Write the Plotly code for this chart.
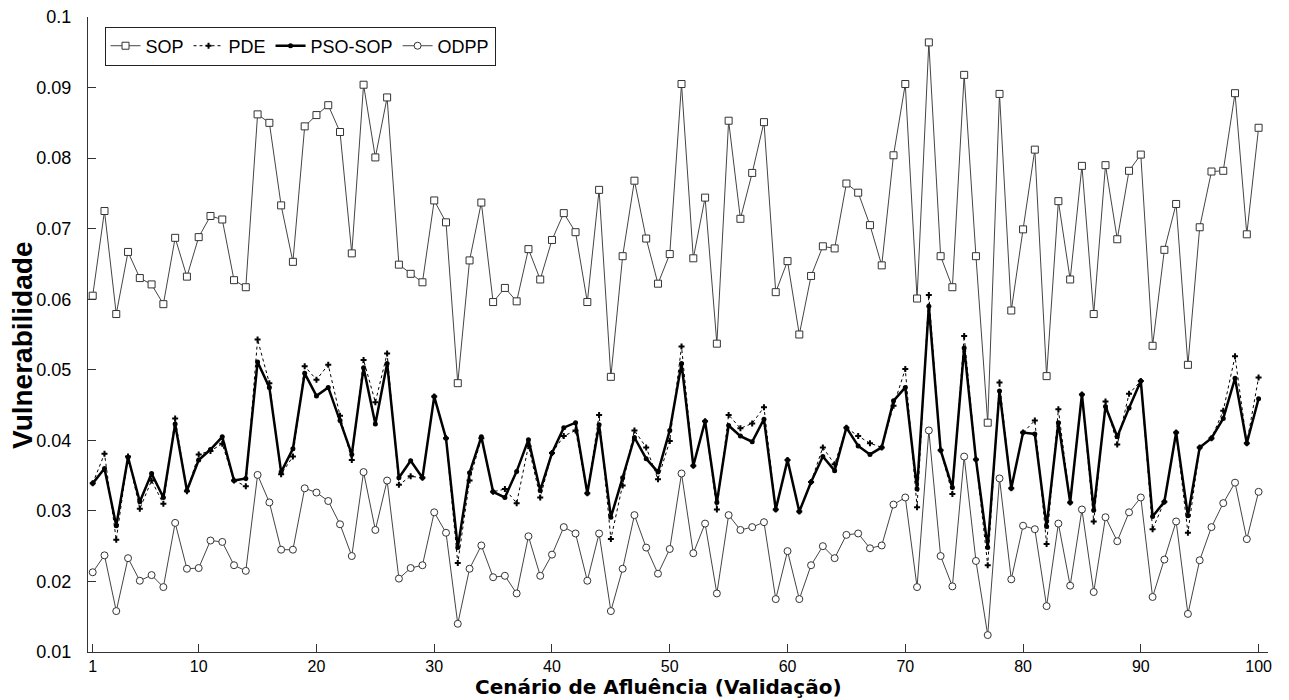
import plotly.graph_objects as go

scenarios = list(range(1, 101))

sop = [0.0605, 0.0725, 0.0579, 0.0667, 0.0630, 0.0621, 0.0593, 0.0687, 0.0632, 0.0688,
       0.0718, 0.0713, 0.0627, 0.0617, 0.0862, 0.0850, 0.0733, 0.0653, 0.0845, 0.0861,
       0.0875, 0.0837, 0.0665, 0.0904, 0.0801, 0.0886, 0.0649, 0.0636, 0.0624, 0.0740,
       0.0709, 0.0481, 0.0655, 0.0737, 0.0596, 0.0616, 0.0597, 0.0671, 0.0628, 0.0684,
       0.0722, 0.0695, 0.0596, 0.0755, 0.0490, 0.0661, 0.0768, 0.0686, 0.0622, 0.0664,
       0.0905, 0.0658, 0.0744, 0.0537, 0.0853, 0.0714, 0.0779, 0.0851, 0.0610, 0.0654,
       0.0550, 0.0633, 0.0675, 0.0672, 0.0764, 0.0751, 0.0705, 0.0648, 0.0804, 0.0905,
       0.0601, 0.0964, 0.0661, 0.0617, 0.0918, 0.0661, 0.0425, 0.0891, 0.0584, 0.0699,
       0.0812, 0.0491, 0.0739, 0.0628, 0.0789, 0.0579, 0.0790, 0.0685, 0.0782, 0.0805,
       0.0534, 0.0670, 0.0735, 0.0507, 0.0702, 0.0781, 0.0782, 0.0892, 0.0692, 0.0843]

pde = [0.0339, 0.0381, 0.0259, 0.0377, 0.0303, 0.0343, 0.0310, 0.0431, 0.0328, 0.0380,
       0.0385, 0.0395, 0.0343, 0.0335, 0.0543, 0.0481, 0.0352, 0.0377, 0.0505, 0.0486,
       0.0507, 0.0435, 0.0372, 0.0514, 0.0454, 0.0523, 0.0337, 0.0349, 0.0347, 0.0462,
       0.0403, 0.0226, 0.0343, 0.0403, 0.0327, 0.0331, 0.0311, 0.0392, 0.0319, 0.0382,
       0.0406, 0.0414, 0.0325, 0.0436, 0.0260, 0.0336, 0.0414, 0.0390, 0.0345, 0.0399,
       0.0533, 0.0364, 0.0427, 0.0302, 0.0436, 0.0417, 0.0424, 0.0447, 0.0302, 0.0372,
       0.0299, 0.0341, 0.0390, 0.0366, 0.0418, 0.0406, 0.0396, 0.0390, 0.0449, 0.0501,
       0.0305, 0.0606, 0.0386, 0.0324, 0.0548, 0.0373, 0.0223, 0.0482, 0.0332, 0.0411,
       0.0428, 0.0253, 0.0444, 0.0312, 0.0465, 0.0285, 0.0455, 0.0394, 0.0466, 0.0484,
       0.0274, 0.0313, 0.0411, 0.0269, 0.0390, 0.0403, 0.0442, 0.0519, 0.0396, 0.0489]

pso_sop = [0.0339, 0.0360, 0.0279, 0.0376, 0.0313, 0.0353, 0.0319, 0.0423, 0.0329, 0.0372,
           0.0387, 0.0405, 0.0343, 0.0346, 0.0511, 0.0475, 0.0355, 0.0388, 0.0495, 0.0463,
           0.0475, 0.0428, 0.0380, 0.0503, 0.0423, 0.0509, 0.0347, 0.0371, 0.0347, 0.0462,
           0.0403, 0.0248, 0.0354, 0.0405, 0.0327, 0.0319, 0.0356, 0.0401, 0.0329, 0.0382,
           0.0418, 0.0425, 0.0325, 0.0422, 0.0291, 0.0347, 0.0404, 0.0374, 0.0355, 0.0414,
           0.0509, 0.0364, 0.0427, 0.0312, 0.0421, 0.0406, 0.0398, 0.0430, 0.0302, 0.0372,
           0.0299, 0.0341, 0.0377, 0.0357, 0.0418, 0.0392, 0.0380, 0.0390, 0.0456, 0.0475,
           0.0331, 0.0590, 0.0386, 0.0333, 0.0531, 0.0373, 0.0248, 0.0470, 0.0332, 0.0411,
           0.0409, 0.0278, 0.0425, 0.0312, 0.0465, 0.0301, 0.0448, 0.0405, 0.0446, 0.0484,
           0.0292, 0.0313, 0.0411, 0.0293, 0.0390, 0.0403, 0.0431, 0.0488, 0.0396, 0.0459]

odpp = [0.0213, 0.0237, 0.0158, 0.0233, 0.0201, 0.0209, 0.0192, 0.0283, 0.0218, 0.0219,
        0.0258, 0.0256, 0.0223, 0.0215, 0.0351, 0.0312, 0.0245, 0.0245, 0.0332, 0.0326,
        0.0314, 0.0281, 0.0236, 0.0355, 0.0273, 0.0343, 0.0204, 0.0219, 0.0223, 0.0298,
        0.0269, 0.0140, 0.0218, 0.0251, 0.0206, 0.0208, 0.0183, 0.0264, 0.0208, 0.0238,
        0.0277, 0.0268, 0.0201, 0.0268, 0.0158, 0.0218, 0.0294, 0.0248, 0.0211, 0.0246,
        0.0353, 0.0240, 0.0282, 0.0183, 0.0294, 0.0273, 0.0277, 0.0284, 0.0175, 0.0243,
        0.0175, 0.0223, 0.0250, 0.0233, 0.0266, 0.0268, 0.0247, 0.0251, 0.0309, 0.0319,
        0.0192, 0.0414, 0.0236, 0.0193, 0.0377, 0.0229, 0.0124, 0.0346, 0.0203, 0.0279,
        0.0274, 0.0165, 0.0282, 0.0194, 0.0302, 0.0185, 0.0291, 0.0257, 0.0298, 0.0319,
        0.0178, 0.0231, 0.0285, 0.0154, 0.0230, 0.0277, 0.0311, 0.0340, 0.0260, 0.0327]

x_ticks = [1, 10, 20, 30, 40, 50, 60, 70, 80, 90, 100]
y_ticks = [0.01, 0.02, 0.03, 0.04, 0.05, 0.06, 0.07, 0.08, 0.09, 0.1]
y_tick_labels = ["0.01", "0.02", "0.03", "0.04", "0.05", "0.06", "0.07", "0.08", "0.09", "0.1"]
x_title = "Cenário de Afluência (Validação)"
y_title = "Vulnerabilidade"

W, H = 1289, 700
ML, MR, MT, MB = 88, 21, 17, 48
PW, PH = W - ML - MR, H - MT - MB

fig = go.Figure()
fig.add_trace(go.Scatter(
    x=scenarios, y=sop, name="SOP", mode="lines+markers",
    line=dict(color="#444444", width=1),
    marker=dict(symbol="square", size=7, color="white", line=dict(color="#333333", width=1)),
))
fig.add_trace(go.Scatter(
    x=scenarios, y=pde, name="PDE", mode="lines+markers",
    line=dict(color="black", width=1, dash="dot"),
    marker=dict(symbol="cross", size=5, color="black"),
))
fig.add_trace(go.Scatter(
    x=scenarios, y=pso_sop, name="PSO-SOP", mode="lines+markers",
    line=dict(color="black", width=2.5),
    marker=dict(symbol="circle", size=5, color="black"),
))
fig.add_trace(go.Scatter(
    x=scenarios, y=odpp, name="ODPP", mode="lines+markers",
    line=dict(color="#444444", width=1),
    marker=dict(symbol="circle", size=7, color="white", line=dict(color="#333333", width=1)),
))

fig.update_layout(
    width=W, height=H,
    margin=dict(l=ML, r=MR, t=MT, b=MB, autoexpand=False),
    paper_bgcolor="white", plot_bgcolor="white",
    font=dict(family="Liberation Sans, Arial, sans-serif", size=17, color="black"),
    showlegend=True,
    legend=dict(
        orientation="h", x=0.014, y=0.985, xanchor="left", yanchor="top",
        bgcolor="white", bordercolor="#222222", borderwidth=1,
        font=dict(size=18), itemwidth=30, tracegroupgap=0,
    ),
    xaxis=dict(
        range=[0.6, 100.8], tickvals=x_ticks, ticks="inside", ticklen=8,
        tickcolor="#333333", showgrid=False, zeroline=False, automargin=False,
        showline=True, linecolor="#333333", linewidth=1, mirror=False,
        tickfont=dict(size=16), ticklabelstandoff=0,
    ),
    yaxis=dict(
        range=[0.01, 0.1], tickvals=y_ticks, ticktext=y_tick_labels, ticks="inside", ticklen=8,
        tickcolor="#333333", showgrid=False, zeroline=False, automargin=False,
        showline=True, linecolor="#333333", linewidth=1, mirror=False,
        tickfont=dict(size=18), ticklabelstandoff=12,
    ),
    annotations=[
        dict(text="<b>" + x_title + "</b>", xref="paper", yref="paper",
             x=(658 - ML) / PW, y=-(700 - (H - MB)) / PH, xanchor="center", yanchor="bottom",
             showarrow=False, borderpad=0,
             font=dict(size=20, family="DejaVu Sans, Liberation Sans, sans-serif")),
        dict(text="<b>" + y_title + "</b>", xref="paper", yref="paper", textangle=-90,
             x=-(ML - 22) / PW, y=1 - (346 - MT) / PH, xanchor="center", yanchor="middle",
             showarrow=False, font=dict(size=28)),
    ],
)

fig.write_html("out.html")
